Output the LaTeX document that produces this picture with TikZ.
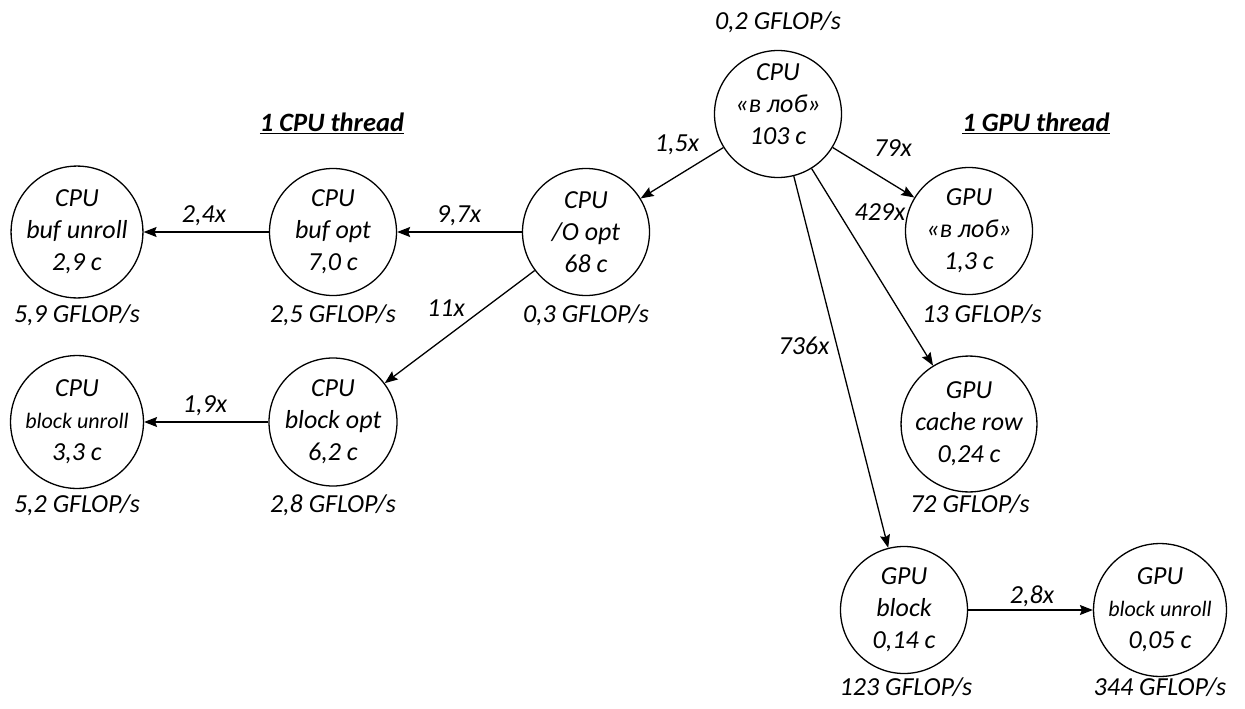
\documentclass[tikz,border=0pt]{standalone}
\usepackage{fontspec}
\setmainfont{Carlito}
\usetikzlibrary{arrows.meta}

% smaller type for the long middle line of some stages
\newcommand\narrowline{\fontsize{22}{28}\selectfont}
% heading text with a heavy underline
\newsavebox\headbox
\newcommand\headline[1]{\sbox\headbox{#1}\rlap{\rule[-3.4pt]{\wd\headbox}{1.6pt}}\usebox\headbox}

\begin{document}
\begin{tikzpicture}[x=1pt,y=-1pt,
  every node/.style={font=\itshape\fontsize{26}{32}\selectfont, inner sep=0pt},
  stage/.style={draw, circle, line width=1.3pt, minimum size=127pt, align=center},
  flow/.style={line width=1.3pt, -{Stealth[length=13pt,width=10pt,inset=2pt]}},
  perf/.style={anchor=base},
  gain/.style={anchor=base},
  heading/.style={font=\bfseries\itshape\fontsize{26.5}{32}\selectfont, anchor=base},
]
\useasboundingbox (0,0) rectangle (1245,709);

% stages
\node[stage, label={[align=center, yshift=10pt]center:CPU\\«в лоб»\\103 c}] (naive) at (778,114) {};
\node[stage] (oopt)      at (586,232) {CPU\\/O opt\\68 c};
\node[stage] (bufopt)    at (333,232) {CPU\\buf opt\\7,0 c};
\node[stage] (bufunr)    at (77,232)  {CPU\\buf unroll\\2,9 c};
\node[stage] (blkopt)    at (333,422) {CPU\\block opt\\6,2 c};
\node[stage] (blkunr)    at (77,422)  {CPU\\{\narrowline block unroll}\\3,3 c};
\node[stage] (gpunaive)  at (969,231) {GPU\\«в лоб»\\1,3 c};
\node[stage] (gpucache)  at (969,424) {GPU\\cache row\\0,24 c};
\node[stage] (gpublk)    at (904,610) {GPU\\block\\0,14 c};
\node[stage] (gpublkunr) at (1160,610) {GPU\\{\narrowline block unroll}\\0,05 c};

% throughput of each stage
\node[perf] (p-naive)     at (778,30)   {0,2 GFLOP/s};
\node[perf] (p-oopt)      at (586,322)  {0,3 GFLOP/s};
\node[perf] (p-bufopt)    at (333,322)  {2,5 GFLOP/s};
\node[perf] (p-bufunr)    at (77,322)   {5,9 GFLOP/s};
\node[perf] (p-blkopt)    at (333,512)  {2,8 GFLOP/s};
\node[perf] (p-blkunr)    at (77,512)   {5,2 GFLOP/s};
\node[perf] (p-gpunaive)  at (982,322)  {13 GFLOP/s};
\node[perf] (p-gpucache)  at (970,512)  {72 GFLOP/s};
\node[perf] (p-gpublk)    at (906,695)  {123 GFLOP/s};
\node[perf] (p-gpublkunr) at (1160,695) {344 GFLOP/s};

% group headings
\node[heading] (h-cpu) at (332,131)  {\headline{1 CPU thread}};
\node[heading] (h-gpu) at (1036,131) {\headline{1 GPU thread}};

% speed-ups
\draw[flow] (naive)  -- (oopt);
\draw[flow] (oopt)   -- (bufopt);
\draw[flow] (bufopt) -- (bufunr);
\draw[flow] (oopt)   -- (blkopt);
\draw[flow] (blkopt) -- (blkunr);
\draw[flow] (naive)  -- (gpunaive);
\draw[flow] (naive)  -- (gpucache);
\draw[flow] (naive)  -- (gpublk);
\draw[flow] (gpublk) -- (gpublkunr);

\node[gain] (g1) at (677,151)  {1,5x};
\node[gain] (g2) at (459,222)  {9,7x};
\node[gain] (g3) at (204,222)  {2,4x};
\node[gain] (g4) at (446,316)  {11x};
\node[gain] (g5) at (205,412)  {1,9x};
\node[gain] (g6) at (893,156)  {79x};
\node[gain] (g7) at (880,220)  {429x};
\node[gain] (g8) at (804,354)  {736x};
\node[gain] (g9) at (1032,603) {2,8x};
\end{tikzpicture}
\end{document}
